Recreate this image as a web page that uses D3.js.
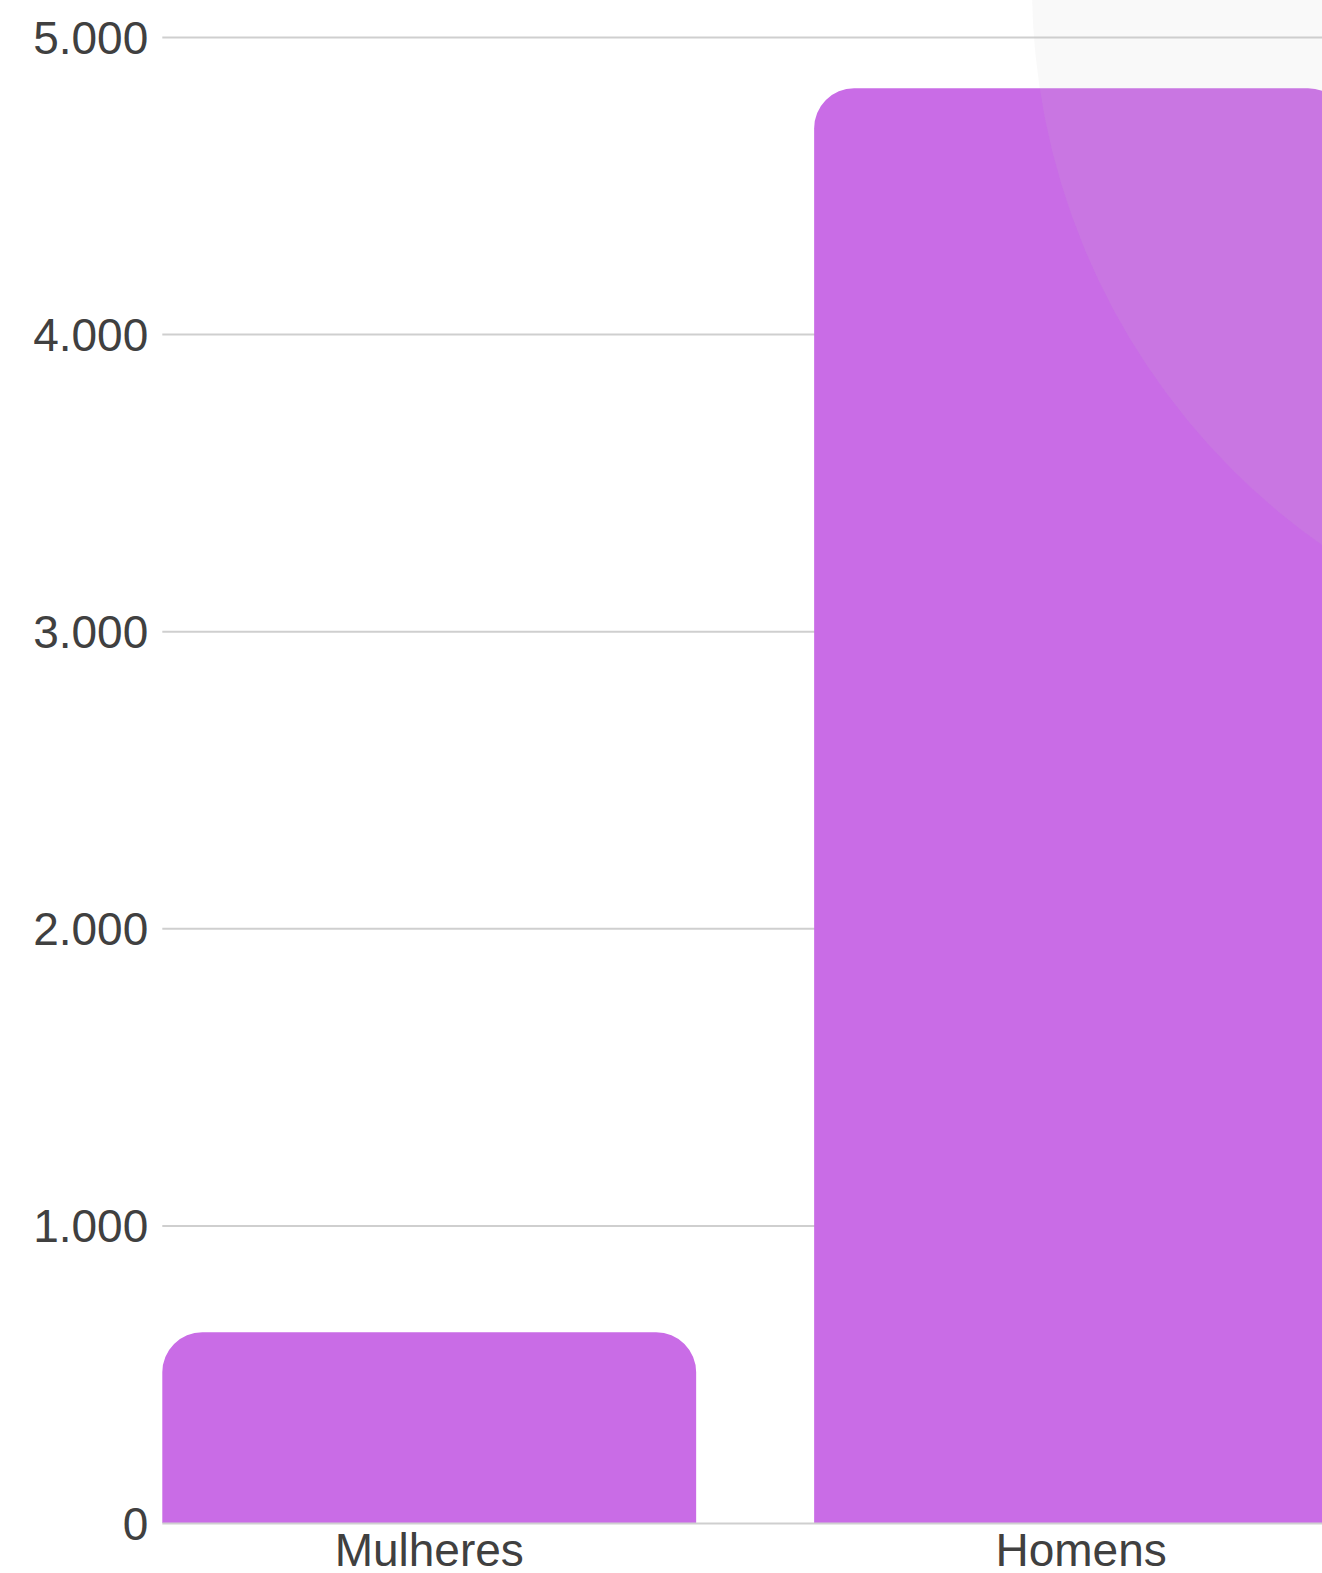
<!DOCTYPE html>
<html>
<head>
<meta charset="utf-8">
<script src="https://cdn.jsdelivr.net/npm/d3@7"></script>
<style>
  body { margin: 0; background: #fff; overflow: hidden; }
  svg { display: block; font-family: "Liberation Sans", Arial, sans-serif; }
</style>
</head>
<body>
<svg width="1322" height="1573"></svg>
<script>
// data
const categories = ["Mulheres", "Homens"];
const values = [642, 4829];
const yTicks = [0, 1000, 2000, 3000, 4000, 5000];

const barColor = "#c96ce6";
const textColor = "#404040";
const gridColor = "#cfcfcf";

const svg = d3.select("svg");

const plotLeft = 162.3, plotRight = 1348;
const plotTop = 37.5, plotBottom = 1523;

const locale = d3.formatLocale({decimal: ",", thousands: ".", grouping: [3], currency: ["R$", ""]});
const fmt = locale.format(",d");

// set the ranges
const x = d3.scaleBand().domain(categories).range([plotLeft, plotRight])
    .paddingInner(0.181).paddingOuter(0);
const y = d3.scaleLinear().domain([0, 5000]).range([plotBottom, plotTop]);

// gridlines
svg.append("g")
    .selectAll("line")
    .data(yTicks.filter(d => d > 0))
    .enter().append("line")
    .attr("x1", plotLeft)
    .attr("x2", plotRight)
    .attr("y1", d => y(d))
    .attr("y2", d => y(d))
    .attr("stroke", gridColor)
    .attr("stroke-width", 2);

// bars with rounded top corners
const r = 40;
function barPath(d, i) {
    const x0 = x(categories[i]), x1 = x0 + x.bandwidth();
    const y0 = y(d), y1 = y(0);
    return "M" + x0 + "," + y1 +
        "L" + x0 + "," + (y0 + r) +
        "A" + r + "," + r + " 0 0 1 " + (x0 + r) + "," + y0 +
        "L" + (x1 - r) + "," + y0 +
        "A" + r + "," + r + " 0 0 1 " + x1 + "," + (y0 + r) +
        "L" + x1 + "," + y1 + "Z";
}
svg.append("g")
    .selectAll("path")
    .data(values)
    .enter().append("path")
    .attr("d", barPath)
    .attr("fill", barColor);

// baseline
svg.append("line")
    .attr("x1", plotLeft).attr("x2", plotRight)
    .attr("y1", y(0) + 0.5).attr("y2", y(0) + 0.5)
    .attr("stroke", gridColor)
    .attr("stroke-width", 2);

// y labels
svg.append("g")
    .selectAll("text")
    .data(yTicks)
    .enter().append("text")
    .attr("x", plotLeft - 14)
    .attr("y", d => y(d))
    .attr("dy", "0.36em")
    .attr("text-anchor", "end")
    .attr("font-size", 46)
    .attr("fill", textColor)
    .text(d => fmt(d));

// x labels
svg.append("g")
    .selectAll("text")
    .data(categories)
    .enter().append("text")
    .attr("x", d => x(d) + x.bandwidth() / 2)
    .attr("y", plotBottom + 43)
    .attr("text-anchor", "middle")
    .attr("font-size", 46)
    .attr("fill", textColor)
    .text(d => d);

// decorative light circle in the corner
svg.append("circle")
    .attr("cx", 1716)
    .attr("cy", -14)
    .attr("r", 684)
    .attr("fill", "rgba(200,200,200,0.11)");
</script>
</body>
</html>
